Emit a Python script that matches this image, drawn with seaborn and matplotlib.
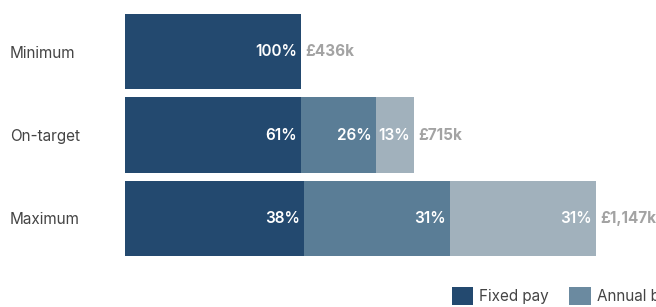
import numpy as np
import pandas as pd
import matplotlib
matplotlib.use("Agg")
import matplotlib.pyplot as plt
from matplotlib.patches import Patch
import seaborn as sns

# remuneration scenarios, £k (bar lengths as drawn in the source)
scenarios = ["Minimum", "On-target", "Maximum"]
fixed_pay = [436, 436, 443]
annual_bonus = [0, 186, 362]
ltip = [0, 93, 362]
pct_labels = [["100%", "", ""], ["61%", "26%", "13%"], ["38%", "31%", "31%"]]
total_labels = ["£436k", "£715k", "£1,147k"]
series_names = ["Fixed pay", "Annual bonus", "LTIP"]
colors = ["#23496f", "#5a7d96", "#a1b1bc"]
legend_colors = ["#23496f", "#6b8aa0", "#a1b1bc"]

sns.set_theme(style="white")
plt.rcParams['font.family'] = ['Inter', 'DejaVu Sans']

df = pd.DataFrame({"scenario": scenarios, "fixed": fixed_pay,
                   "bonus": annual_bonus, "ltip": ltip})
df["c1"] = df["fixed"]
df["c2"] = df["fixed"] + df["bonus"]
df["c3"] = df["c2"] + df["ltip"]

fig = plt.figure(figsize=(6.56, 3.07), dpi=100)
ax = fig.add_axes([125/656, 1-256/307, 1-125/656, 242/307])

# stacked = overlapping cumulative bars, largest first
for col, c in zip(["c3", "c2", "c1"], colors[::-1]):
    sns.barplot(data=df, x=col, y="scenario", orient="h", color=c,
                width=0.9, saturation=1, ax=ax, edgecolor="none")

ax.set_xlim(0, 1315)
ax.set_ylim(2.45, -0.45)
ax.set_xlabel("")
ax.set_ylabel("")
ax.set_xticks([])
sns.despine(ax=ax, left=True, bottom=True)
ax.tick_params(axis="y", length=0, pad=(125-10)/100*72)
for lab in ax.get_yticklabels():
    lab.set_ha("left")
    lab.set_fontsize(11)
    lab.set_color("#444444")

seg_ends = [df["c1"], df["c2"], df["c3"]]
for i in range(len(scenarios)):
    for lab, ends in zip(pct_labels[i], seg_ends):
        if not lab:
            continue
        ax.annotate(lab, (ends[i], i), xytext=(-3, 0),
                    textcoords="offset points", ha="right", va="center",
                    color="white", fontsize=11, fontweight="semibold")
    ax.annotate(total_labels[i], (df["c3"][i], i), xytext=(3, 0),
                textcoords="offset points", ha="left", va="center",
                color="#a3a3a3", fontsize=11, fontweight="bold")

handles = [Patch(facecolor=c, edgecolor="none") for c in legend_colors]
fig.legend(handles, series_names, loc="upper left",
           bbox_to_anchor=(452/656, 1-287/307), ncol=3, frameon=False,
           fontsize=11, handlelength=1.4, handleheight=1.4,
           handletextpad=0.4, columnspacing=1.3, borderpad=0,
           borderaxespad=0, labelcolor="#444444")

fig.savefig("out.png", dpi=100)
